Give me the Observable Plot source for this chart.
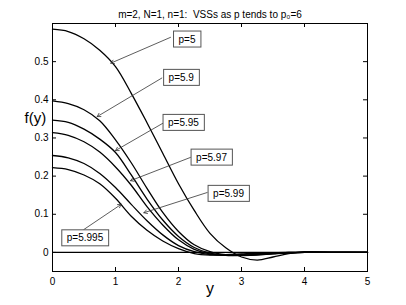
<!DOCTYPE html>
<html><head><meta charset="utf-8">
<script src="https://cdn.jsdelivr.net/npm/d3@7"></script>
<script src="https://cdn.jsdelivr.net/npm/@observablehq/plot@0.6"></script>
<style>body{margin:0;background:#fff}</style>
</head><body><div id="chart"></div>
<script>
const title = "m=2, N=1, n=1:  VSSs as p tends to p₀=6";
const xs = [0,0.25,0.5,0.75,1,1.25,1.5,1.75,2,2.25,2.5,2.75,3,3.25,3.5,3.75,4,4.5,5];
const p5    = [0.585,0.579,0.560,0.530,0.487,0.417,0.340,0.260,0.180,0.110,0.050,0.012,-0.012,-0.020,-0.012,-0.003,0.002,0.001,0];
const p59   = [0.397,0.390,0.374,0.345,0.295,0.235,0.168,0.105,0.055,0.020,0.002,-0.006,-0.008,-0.007,-0.004,-0.002,0,0,0];
const p595  = [0.347,0.341,0.323,0.297,0.262,0.203,0.140,0.085,0.042,0.013,-0.002,-0.007,-0.008,-0.006,-0.003,-0.001,0,0,0];
const p597  = [0.314,0.307,0.290,0.263,0.224,0.176,0.120,0.072,0.033,0.008,-0.004,-0.008,-0.007,-0.005,-0.003,-0.001,0,0,0];
const p599  = [0.254,0.248,0.233,0.207,0.170,0.126,0.083,0.046,0.018,0.002,-0.006,-0.007,-0.005,-0.003,-0.002,0,0,0,0];
const p5995 = [0.222,0.217,0.203,0.180,0.142,0.095,0.058,0.030,0.010,-0.003,-0.007,-0.006,-0.004,-0.002,-0.001,0,0,0,0];
const seriesNames = ["p=5","p=5.9","p=5.95","p=5.97","p=5.99","p=5.995"];
const seriesValues = [p5,p59,p595,p597,p599,p5995];

const xTicks = [0,1,2,3,4,5];
const yTicks = [0,0.1,0.2,0.3,0.4,0.5];

// annotation labels: text centre, arrow start, arrow tip (data units)
const annLabel = ["p=5","p=5.9","p=5.95","p=5.97","p=5.99","p=5.995"];
const annX  = [2.135,2.044,2.079,2.524,2.794,0.516];
const annY  = [0.5585,0.458,0.340,0.249,0.154,0.0375];
const annX1 = [1.873,1.735,1.767,2.190,2.455,0.497];
const annY1 = [0.5637,0.457,0.340,0.249,0.157,0.060];
const annX2 = [0.925,0.709,1.000,1.238,1.450,1.090];
const annY2 = [0.496,0.356,0.267,0.188,0.104,0.126];

const lineData = [];
seriesNames.forEach((s,i) => xs.forEach((x,j) => lineData.push({series:s, x, y:seriesValues[i][j]})));
const ann = annLabel.map((l,i) => ({label:l, x:annX[i], y:annY[i], x1:annX1[i], y1:annY1[i], x2:annX2[i], y2:annY2[i]}));

const W = 406, H = 305, mL = 52, mR = 39, mT = 23, mB = 34;
const fw = W - mL - mR, fh = H - mT - mB, tk = 4;

const chart = Plot.plot({
  width: W, height: H,
  marginLeft: mL, marginRight: mR, marginTop: mT, marginBottom: mB,
  style: {fontFamily: "'Liberation Sans', Arial, sans-serif", fontSize: "10px", background: "#fff", color: "#000"},
  x: {domain: [0,5]},
  y: {domain: [-0.05,0.6]},
  marks: [
    Plot.frame({stroke: "#000", strokeWidth: 1}),
    Plot.gridX(xTicks, {stroke: "#000", strokeOpacity: 1, insetTop: fh - tk}),
    Plot.gridX(xTicks, {stroke: "#000", strokeOpacity: 1, insetBottom: fh - tk}),
    Plot.gridY(yTicks, {stroke: "#000", strokeOpacity: 1, insetRight: fw - tk}),
    Plot.gridY(yTicks, {stroke: "#000", strokeOpacity: 1, insetLeft: fw - tk}),
    Plot.axisX(xTicks, {tickSize: 0, tickPadding: 6, label: null, fontSize: 10}),
    Plot.axisY(yTicks, {tickSize: 0, tickPadding: 4, label: null, fontSize: 10, tickFormat: d => String(d)}),
    Plot.ruleY([0], {x1: 0, x2: 5, stroke: "#000", strokeWidth: 1.3}),
    Plot.line(lineData, {x: "x", y: "y", z: "series", stroke: "#000", strokeWidth: 1.3, curve: "catmull-rom"}),
    Plot.arrow(ann, {x1: "x1", y1: "y1", x2: "x2", y2: "y2", stroke: "#333", strokeWidth: 0.8, headLength: 7, bend: 0}),
    Plot.text(ann, {x: "x", y: "y", text: "label", fontSize: 10, fill: "#000", ariaDescription: "annot"}),
    Plot.text([title], {frameAnchor: "top", dy: -13, fontSize: 10, fill: "#000"}),
    Plot.text(["f(y)"], {frameAnchor: "left", y: [0.352], dx: -28, fontSize: 15, fill: "#000"}),
    Plot.text(["y"], {frameAnchor: "bottom", dy: 22, fontSize: 16, fill: "#000"})
  ]
});
document.getElementById("chart").appendChild(chart);

// draw boxes behind annotation labels
const annTexts = [...chart.querySelectorAll("text")].filter(t => annLabel.includes(t.textContent) && t.closest("g") && t.closest("g").getAttribute("aria-description") === "annot");
const targets = annTexts.length ? annTexts : [...chart.querySelectorAll("text")].filter(t => annLabel.includes(t.textContent));
targets.forEach(t => {
  const b = t.getBBox();
  const r = document.createElementNS("http://www.w3.org/2000/svg", "rect");
  r.setAttribute("x", b.x - 5); r.setAttribute("y", b.y - 2.5);
  r.setAttribute("width", b.width + 10); r.setAttribute("height", b.height + 5);
  r.setAttribute("fill", "#fff"); r.setAttribute("stroke", "#555"); r.setAttribute("stroke-width", "1");
  const tr = t.getAttribute("transform");
  if (tr) r.setAttribute("transform", tr);
  t.parentNode.insertBefore(r, t);
});
</script>
</body></html>
